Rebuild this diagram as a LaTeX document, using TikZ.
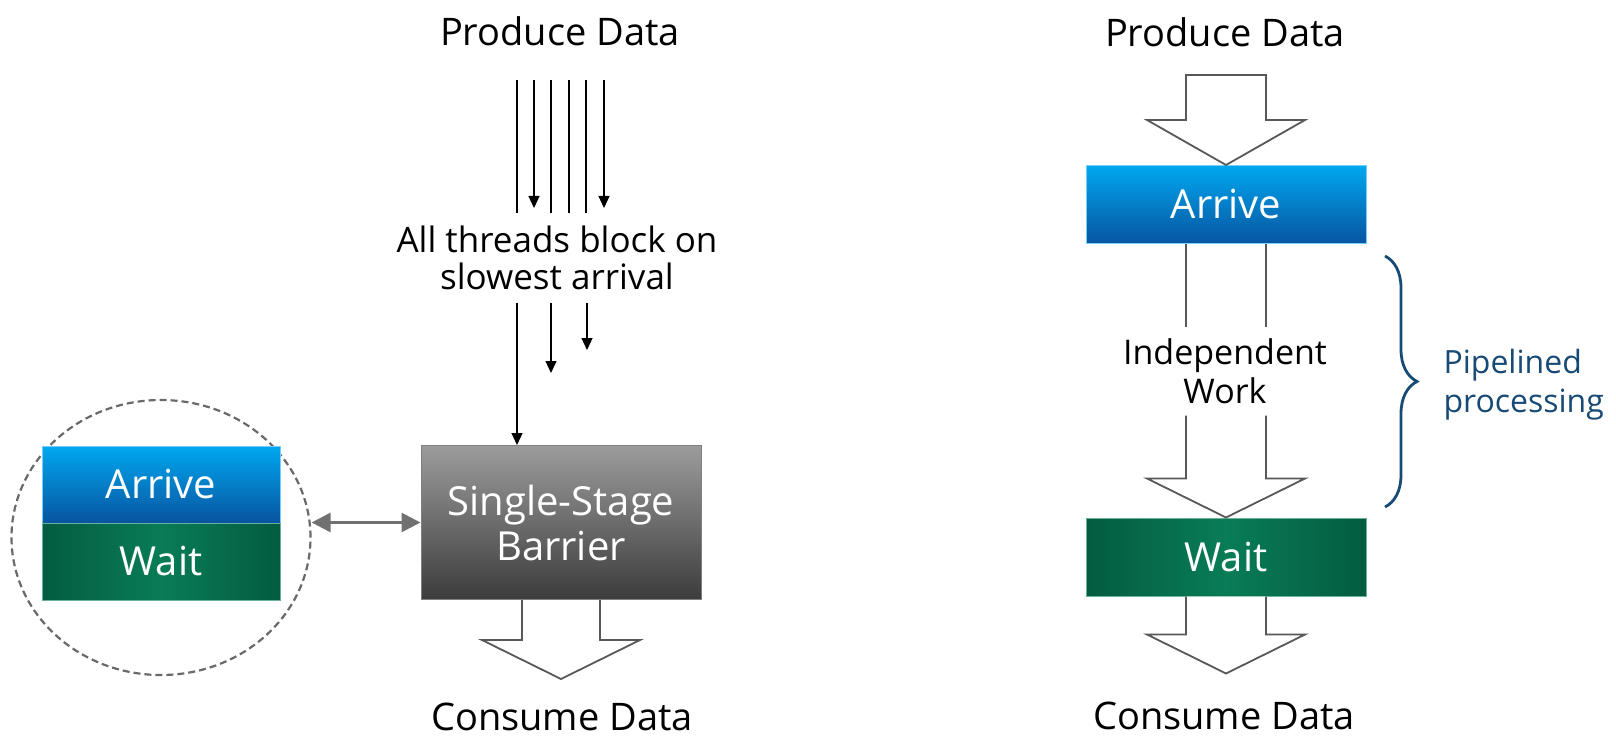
\documentclass[tikz,border=0pt]{standalone}
\usepackage{fontspec}
\setmainfont{Open Sans}
\usetikzlibrary{arrows.meta,shapes.geometric,decorations.pathreplacing}

\definecolor{arrtop}{RGB}{0,168,240}
\definecolor{arrbot}{RGB}{8,84,160}
\definecolor{waitdark}{RGB}{4,92,64}
\definecolor{waitlight}{RGB}{8,124,86}
\definecolor{bartop}{RGB}{156,156,156}
\definecolor{barbot}{RGB}{60,60,60}
\definecolor{outl}{RGB}{88,88,88}
\definecolor{bracec}{RGB}{24,74,118}

\begin{document}
\begin{tikzpicture}
	[x=1pt,y=-1pt,
	 big/.style={font=\fontsize{38}{44}\selectfont},
	 note/.style={font=\fontsize{35}{37}\selectfont,align=center},
	 box/.style={minimum width=280pt,minimum height=78pt,inner sep=0pt,text=white,font=\fontsize{40}{45}\selectfont,align=center},
	 arrivebox/.style={box,top color=arrtop,bottom color=arrbot,draw=arrtop!55!white,line width=1pt},
	 waitbox/.style={box,left color=waitdark,right color=waitdark,middle color=waitlight,draw=waitlight!60!white,line width=1pt},
	 hollow/.style={draw=outl,fill=white,line width=1.8pt,line join=miter},
	 thread/.style={line width=1.2pt},
	 thrarr/.style={thread,-{Triangle[width=11pt,length=12pt]}},
	 link/.style={draw=outl!85!white,line width=3pt,{Triangle[width=19pt,length=19pt]}-{Triangle[width=19pt,length=19pt]}}]
	\useasboundingbox (0,0) rectangle (1616,738);
	
	\node[big] (prodL) at (560,31) {Produce Data};
	\node[note] (block) at (557,258) {All threads block on\\slowest arrival};
	\node[box,top color=bartop,bottom color=barbot,draw=gray,line width=1pt,minimum height=154pt] (barrier) at (561,522.5) {Single-Stage\\Barrier};
	\node[big] (consL) at (562,717) {Consume Data};
	\node[ellipse,draw=outl!90!white,line width=2.2pt,dash pattern=on 7pt off 4pt,minimum width=299pt,minimum height=275pt] (ring) at (161,537.5) {};
	\node[arrivebox,minimum width=238pt,minimum height=77pt] (arrL) at (161,484.5) {Arrive};
	\node[waitbox,minimum width=238pt,minimum height=77pt] (waitL) at (161,561.5) {Wait};
	
	\foreach \x/\y/\s [count=\i] in {517/213/thread,534/208/thrarr,551/213/thread,569/213/thread,586/213/thread,604/208/thrarr}
		\draw[\s] (\x,80) coordinate (in\i) -- (\x,\y) coordinate (out\i);
	\draw[thrarr] (517,303) coordinate (low1) -- (low1 |- barrier.north);
	\foreach \x/\y [count=\i from 2] in {551/373,587/350}
		\draw[thrarr] (\x,303) coordinate (low\i) -- (\x,\y);
	\draw[link] (barrier.west -| ring.east) -- (barrier.west);
	\draw[hollow,shift={(barrier.south)}] (-39,0) -- (-39,40) -- (-79,40) -- (0,79) -- (79,40) -- (39,40) -- (39,0);
	
	\node[big] (prodR) at (1225,32) {Produce Data};
	\node[arrivebox] (arrR) at (1226,204.5) {Arrive};
	\node[note,font=\fontsize{34}{39}\selectfont] (work) at (1225,371.5) {Independent\\Work};
	\node[waitbox] (waitR) at (1226,557) {Wait};
	\node[big] (consR) at (1224,716) {Consume Data};
	\node[anchor=west,text=bracec,align=left,font=\fontsize{32}{39}\selectfont] (pipe) at (1440,385) {Pipelined\\processing};
	
	\draw[hollow,shift={(arrR.north)}] (-40,-90) -- (-40,-45) -- (-79,-45) -- (0,0) -- (79,-45) -- (40,-45) -- (40,-90) -- cycle;
	\draw[hollow,shift={(arrR.south)}] (-40,0) -- (-40,83) (40,0) -- (40,83);
	\draw[hollow,shift={(waitR.north)}] (-40,-102) -- (-40,-39) -- (-79,-39) -- (0,0) -- (79,-39) -- (40,-39) -- (40,-102);
	\draw[hollow,shift={(waitR.south)}] (-40,0) -- (-40,38) -- (-79,38) -- (0,77) -- (79,38) -- (40,38) -- (40,0);
	\draw[bracec,line width=2.8pt,decorate,decoration={brace,amplitude=32pt}] (1385,256) -- (1385,507);
\end{tikzpicture}
\end{document}
